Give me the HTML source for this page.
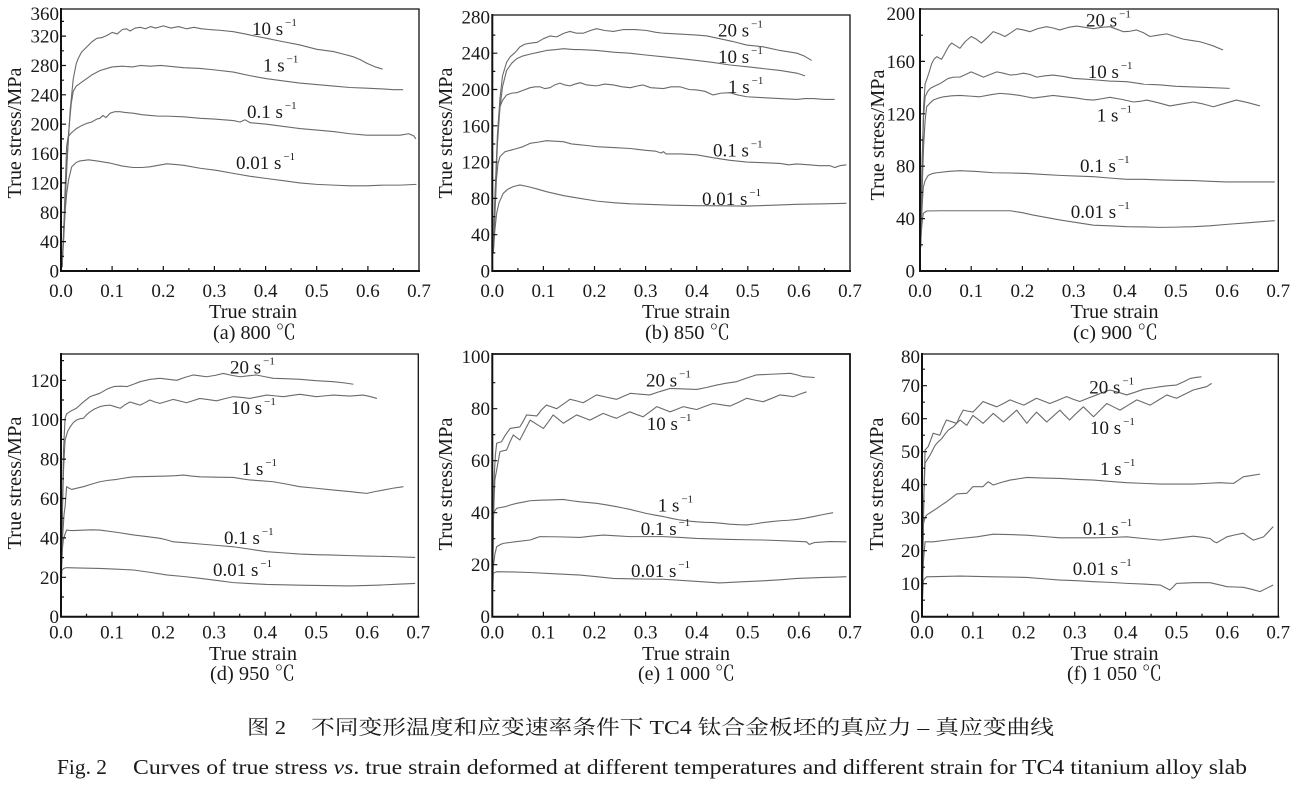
<!DOCTYPE html>
<html><head><meta charset="utf-8"><style>
html,body{margin:0;padding:0;background:#fff;}
svg{display:block;}
text{font-family:"Liberation Serif","Noto Serif CJK SC",serif;fill:#1a1a1a;}
.c path{fill:none;stroke:#6a6a6a;stroke-width:1.1;stroke-linejoin:round;}
.tk{stroke:#111;stroke-width:1.2;fill:none;}
.ax{stroke:#111;fill:none;}
.tl{font-size:19px;}
.yl{font-size:19px;text-anchor:end;}
.xl{font-size:19px;text-anchor:middle;}
.lb{font-size:19px;}
.ti{font-size:20px;text-anchor:middle;}
</style></head><body>
<svg width="1300" height="787" viewBox="0 0 1300 787" xmlns="http://www.w3.org/2000/svg">

<!-- ============ PANEL A ============ -->
<g class="c" transform="translate(61,271) scale(0.5114,-0.734)">
<path vector-effect="non-scaling-stroke" d="M2,5 L6,60 L12,150 L18,220 L24,262 L30,283 L34,290 L40,298 L50,305 L60,312 L70,317 L80,318 L90,321 L100,325 L110,323 L120,329 L128,330 L135,327 L145,331 L155,332 L165,330 L175,333 L185,331 L200,334 L215,331 L230,333 L245,330 L260,332 L275,330 L290,329 L310,328 L337,326 L360,323 L380,320 L402,317 L430,313 L467,308 L500,302 L533,299 L555,295 L571,292 L585,288 L598,283 L615,278 L629,275"/>
<path vector-effect="non-scaling-stroke" d="M2,5 L6,60 L10,130 L15,190 L20,228 L24,245 L30,252 L40,257 L50,262 L60,267 L76,273 L90,276 L100,278 L120,279 L140,278 L155,280 L175,279 L195,280 L210,279 L240,277 L272,276 L300,274 L337,271 L370,266 L402,262 L435,259 L467,256 L500,254 L533,252 L565,250 L598,249 L630,248 L650,247 L669,247"/>
<path vector-effect="non-scaling-stroke" d="M2,5 L6,70 L9,130 L11,170 L14,183 L20,188 L30,194 L40,198 L50,201 L60,203 L70,207 L76,208 L82,212 L88,209 L96,215 L105,217 L115,217 L125,216 L141,215 L158,213 L174,212 L190,211 L207,211 L240,210 L272,208 L300,207 L337,205 L350,203 L360,206 L370,202 L402,200 L435,197 L467,194 L500,192 L533,190 L565,187 L598,185 L630,185 L663,185 L680,187 L690,184 L694,180"/>
<path vector-effect="non-scaling-stroke" d="M2,5 L5,40 L8,80 L11,105 L15,125 L21,142 L30,148 L37,150 L54,151.5 L70,150 L96,147 L120,143 L141,141 L158,141 L174,142 L190,144 L207,146 L225,145 L240,144 L272,140 L305,137 L337,133 L370,129 L402,126 L435,123 L467,120 L500,118 L533,117 L565,116 L598,116 L630,117 L663,117 L695,118"/>
</g>
<path class="ax" stroke-width="1.3" d="M61,9 H419 V271"/>
<path class="ax" stroke-width="2" d="M61,8 V271 H420"/>
<path class="tk" d="M61,256.3h3M61,241.6h5M61,227h3M61,212.3h5M61,197.6h3M61,182.9h5M61,168.2h3M61,153.6h5M61,138.9h3M61,124.2h5M61,109.5h3M61,94.8h5M61,80.2h3M61,65.5h5M61,50.8h3M61,36.1h5M61,21.4h3
M86.6,271v-3M112.1,271v-5M137.7,271v-3M163.3,271v-5M188.9,271v-3M214.4,271v-5M240,271v-3M265.6,271v-5M291.1,271v-3M316.7,271v-5M342.3,271v-3M367.9,271v-5M393.4,271v-3"/>
<g class="yl">
<text x="59" y="277.5">0</text><text x="59" y="248">40</text><text x="59" y="218.8">80</text><text x="59" y="189.4">120</text><text x="59" y="160">160</text><text x="59" y="130.7">200</text><text x="59" y="101.3">240</text><text x="59" y="72">280</text><text x="59" y="42.6">320</text><text x="59" y="19.8">360</text>
</g>
<g class="xl">
<text x="61" y="297">0.0</text><text x="112.1" y="297">0.1</text><text x="163.3" y="297">0.2</text><text x="214.4" y="297">0.3</text><text x="265.6" y="297">0.4</text><text x="316.7" y="297">0.5</text><text x="367.9" y="297">0.6</text><text x="419" y="297">0.7</text>
</g>
<text class="ti" x="253" y="318" textLength="88" lengthAdjust="spacingAndGlyphs">True strain</text>
<text class="ti" transform="translate(21,133) rotate(-90)" x="0" y="0" textLength="131" lengthAdjust="spacingAndGlyphs">True stress/MPa</text>
<text class="ti" x="254.5" y="339" textLength="83" lengthAdjust="spacingAndGlyphs">(a) 800 ℃</text>
<g class="lb">
<text x="252" y="35">10 s<tspan dx="2" dy="-9" font-size="11">−1</tspan></text>
<text x="263" y="71.5">1 s<tspan dx="2" dy="-9" font-size="11">−1</tspan></text>
<text x="247" y="118">0.1 s<tspan dx="2" dy="-9" font-size="11">−1</tspan></text>
<text x="236" y="169">0.01 s<tspan dx="2" dy="-9" font-size="11">−1</tspan></text>
</g>

<!-- ============ PANEL B ============ -->
<g class="c" transform="translate(492.3,271) scale(0.511,-0.9075)">
<path vector-effect="non-scaling-stroke" d="M2,20 L5,80 L10,150 L15,190 L20,215 L28,230 L35,236 L45,241 L54,247 L64,250 L74,251 L88,252 L100,256 L113,259 L126,258 L140,262 L152,264 L165,262 L178,262 L192,265 L204,267 L220,265 L237,264 L256,266 L280,266 L302,265 L320,263 L335,262 L370,261 L400,260 L420,259 L445,256 L470,253 L498,249 L515,248 L530,247 L563,243 L596,240 L610,237 L625,232"/>
<path vector-effect="non-scaling-stroke" d="M2,20 L5,75 L10,140 L15,180 L20,203 L28,221 L38,229 L48,234 L60,237 L74,239 L90,241 L106,243 L125,244 L139,245 L160,244 L172,244 L204,243 L240,241 L269,240 L300,238 L335,236 L370,234 L400,232 L430,230 L465,227 L500,225 L530,223 L563,221 L596,218 L612,215"/>
<path vector-effect="non-scaling-stroke" d="M2,20 L5,70 L9,130 L12,165 L15,181 L20,188 L28,194 L38,196 L48,196.5 L60,199 L74,202 L84,203 L93,203 L103,201 L113,202 L122,205 L132,207 L142,205 L152,204 L162,206 L172,207.5 L185,205 L204,204 L220,206 L237,205 L254,203 L270,202 L285,204 L295,205 L310,202 L335,201 L350,203 L367,203 L385,200 L400,199.5 L416,198 L432,194 L448,196 L465,196.5 L480,194 L498,192 L530,191 L563,190 L596,189 L612,190 L628,190 L650,189 L670,189"/>
<path vector-effect="non-scaling-stroke" d="M2,20 L5,60 L8,100 L11,118 L15,126 L25,131.5 L35,133 L48,135 L60,137 L74,140.7 L90,142 L106,143.6 L122,143 L139,142.5 L155,140 L172,139 L190,138 L204,137 L237,136 L270,135 L300,133 L320,132 L330,130 L335,131.5 L340,129 L370,129 L400,128 L430,125 L465,122 L498,120 L530,119.4 L563,118.5 L580,117 L596,118 L620,117 L640,116 L661,116 L670,114 L680,116 L693,117"/>
<path vector-effect="non-scaling-stroke" d="M2,20 L5,45 L8.5,63.5 L13,75 L21.5,85.6 L30,90 L41,93 L54,94.8 L70,93 L90,90 L106,87.4 L140,83 L172,80 L205,77 L237,75.3 L270,74 L302,73.5 L350,72.5 L400,72 L450,71.8 L498,71.6 L550,72.5 L596,73.5 L650,74 L693,74.6"/>
</g>
<path class="ax" stroke-width="1.3" d="M492.3,15 H850 V271"/>
<path class="ax" stroke-width="2" d="M492.3,14 V271 H851"/>
<path class="tk" d="M492.3,252.9h3M492.3,234.7h5M492.3,216.6h3M492.3,198.4h5M492.3,180.3h3M492.3,162.1h5M492.3,144h3M492.3,125.8h5M492.3,107.7h3M492.3,89.5h5M492.3,71.4h3M492.3,53.2h5M492.3,35.1h3
M517.9,271v-3M543.4,271v-5M569,271v-3M594.5,271v-5M620.1,271v-3M645.6,271v-5M671.2,271v-3M696.7,271v-5M722.3,271v-3M747.8,271v-5M773.4,271v-3M798.9,271v-5M824.5,271v-3"/>
<g class="yl">
<text x="490" y="277.5">0</text><text x="490" y="241.2">40</text><text x="490" y="204.9">80</text><text x="490" y="168.6">120</text><text x="490" y="132.3">160</text><text x="490" y="96">200</text><text x="490" y="59.7">240</text><text x="490" y="23.5">280</text>
</g>
<g class="xl">
<text x="492.3" y="297">0.0</text><text x="543.4" y="297">0.1</text><text x="594.5" y="297">0.2</text><text x="645.6" y="297">0.3</text><text x="696.7" y="297">0.4</text><text x="747.8" y="297">0.5</text><text x="798.9" y="297">0.6</text><text x="850" y="297">0.7</text>
</g>
<text class="ti" x="686" y="318" textLength="88" lengthAdjust="spacingAndGlyphs">True strain</text>
<text class="ti" transform="translate(452,133) rotate(-90)" x="0" y="0" textLength="131" lengthAdjust="spacingAndGlyphs">True stress/MPa</text>
<text class="ti" x="687.5" y="339" textLength="85" lengthAdjust="spacingAndGlyphs">(b) 850 ℃</text>
<g class="lb">
<text x="718" y="36.5">20 s<tspan dx="2" dy="-9" font-size="11">−1</tspan></text>
<text x="718" y="63">10 s<tspan dx="2" dy="-9" font-size="11">−1</tspan></text>
<text x="728" y="93">1 s<tspan dx="2" dy="-9" font-size="11">−1</tspan></text>
<text x="713" y="156.5">0.1 s<tspan dx="2" dy="-9" font-size="11">−1</tspan></text>
<text x="702" y="205">0.01 s<tspan dx="2" dy="-9" font-size="11">−1</tspan></text>
</g>

<!-- ============ PANEL C ============ -->
<g class="c" transform="translate(920,271) scale(0.5119,-1.31)">
<path vector-effect="non-scaling-stroke" d="M1,18 L4,80 L7,125 L10,143 L13,146 L18,152 L23,158.5 L28,162 L33,163.6 L38,162.5 L42,161.6 L47,165 L52,168.7 L57,172 L62,174 L70,172 L78,170 L88,175 L100,179 L110,177 L120,174 L131,178 L143,182.7 L155,181 L166,179 L178,182 L189,185 L202,184 L215,182.7 L230,185 L247,186.5 L260,185.5 L273,184 L290,186 L306,187 L322,186 L339,185 L355,186 L371,186.5 L385,184.5 L397,182.7 L410,183 L423,184 L436,182 L449,179 L465,180 L482,181 L498,179 L514,177 L530,176 L547,175 L560,173.5 L573,171.8 L592,168.7"/>
<path vector-effect="non-scaling-stroke" d="M1,18 L4,80 L7,118 L10,133 L15,137 L20,139.4 L28,141 L39,143 L47,145 L55,147 L66,148 L78,148 L89,150 L100,152 L112,150 L124,148 L137,150 L150,152 L163,151 L176,149.6 L189,150 L202,151 L215,150 L228,148 L244,149 L260,149.6 L280,148.5 L300,147 L320,146.5 L339,146 L370,145 L404,144.5 L436,142.7 L470,142 L500,141 L533,140.5 L566,140 L605,139.4"/>
<path vector-effect="non-scaling-stroke" d="M1,18 L4,60 L7,95 L10,115 L13,125.4 L19,128 L26,130.5 L36,132 L46,133 L62,133.7 L78,134 L98,133.5 L117,133 L137,134.5 L156,135.6 L176,135 L195,134 L208,133 L221,132 L240,133 L260,134 L283,133 L306,132 L322,131 L339,130.5 L355,131.5 L371,132.6 L394,131 L417,129 L430,129.5 L443,130.5 L465,128.5 L488,126 L511,127.5 L534,129 L553,127.5 L573,125.4 L596,128 L618,130.5 L641,128.5 L664,126"/>
<path vector-effect="non-scaling-stroke" d="M1,18 L3,40 L5,55 L6.5,64 L10,69 L16,73 L25,74.5 L33,75 L55,76 L78,76.6 L110,76 L143,75 L176,74.8 L208,74.5 L240,73.7 L273,73 L306,72.5 L339,72 L370,71 L404,70 L436,70 L469,69.5 L500,69.2 L534,69 L566,68.5 L599,68 L640,68 L693,68"/>
<path vector-effect="non-scaling-stroke" d="M1,18 L3,32 L5,40 L6.5,44 L13,45.8 L40,46 L78,46 L120,46 L150,46 L176,46 L200,44.5 L221,42.7 L245,41 L273,39 L306,37 L339,35 L370,34.5 L404,33.8 L436,33.6 L469,33.3 L500,33.5 L534,33.8 L566,34.5 L599,35.6 L640,36.8 L693,38.4"/>
</g>
<path class="ax" stroke-width="1.3" d="M920,9 H1278.3 V271"/>
<path class="ax" stroke-width="2" d="M920,8 V271 H1279"/>
<path class="tk" d="M920,244.8h3M920,218.6h5M920,192.4h3M920,166.2h5M920,140h3M920,113.8h5M920,87.6h3M920,61.4h5M920,35.2h3
M945.6,271v-3M971.2,271v-5M996.8,271v-3M1022.4,271v-5M1048,271v-3M1073.6,271v-5M1099.1,271v-3M1124.7,271v-5M1150.3,271v-3M1175.9,271v-5M1201.5,271v-3M1227.1,271v-5M1252.7,271v-3"/>
<g class="yl">
<text x="915" y="277.5">0</text><text x="915" y="225.1">40</text><text x="915" y="172.7">80</text><text x="915" y="120.3">120</text><text x="915" y="67.9">160</text><text x="915" y="19.8">200</text>
</g>
<g class="xl">
<text x="920" y="297">0.0</text><text x="971.2" y="297">0.1</text><text x="1022.4" y="297">0.2</text><text x="1073.6" y="297">0.3</text><text x="1124.7" y="297">0.4</text><text x="1175.9" y="297">0.5</text><text x="1227.1" y="297">0.6</text><text x="1278.3" y="297">0.7</text>
</g>
<text class="ti" x="1114.5" y="318" textLength="88" lengthAdjust="spacingAndGlyphs">True strain</text>
<text class="ti" transform="translate(884,135) rotate(-90)" x="0" y="0" textLength="131" lengthAdjust="spacingAndGlyphs">True stress/MPa</text>
<text class="ti" x="1115.5" y="339" textLength="85" lengthAdjust="spacingAndGlyphs">(c) 900 ℃</text>
<g class="lb">
<text x="1086" y="26.5">20 s<tspan dx="2" dy="-9" font-size="11">−1</tspan></text>
<text x="1087.7" y="78">10 s<tspan dx="2" dy="-9" font-size="11">−1</tspan></text>
<text x="1096.7" y="121.5">1 s<tspan dx="2" dy="-9" font-size="11">−1</tspan></text>
<text x="1080" y="172">0.1 s<tspan dx="2" dy="-9" font-size="11">−1</tspan></text>
<text x="1070.7" y="218">0.01 s<tspan dx="2" dy="-9" font-size="11">−1</tspan></text>
</g>

<!-- ============ PANEL D ============ -->
<g class="c" transform="translate(61,616.7) scale(0.5103,-1.97)">
<path vector-effect="non-scaling-stroke" d="M1,25 L3,60 L5,85 L8,100.7 L11,103 L20,104.5 L30,105.8 L44,109 L57,111.7 L66,112.5 L76,113.4 L90,115.5 L103,116.8 L116,117 L129,116.8 L142,118 L155,119.3 L175,120.5 L194,121 L210,120.5 L227,120 L243,121.5 L259,122.7 L272,122.3 L285,121.8 L302,122.5 L318,123.5 L335,122.5 L351,121.8 L367,122.3 L383,122.7 L400,121.8 L416,121 L440,120.8 L468,120.5 L500,119.8 L534,119.3 L555,118.7 L573,118"/>
<path vector-effect="non-scaling-stroke" d="M1,25 L3,55 L5,75 L8,89.7 L13,94 L18,96.4 L24,98.5 L30,99.8 L37,100.5 L44,100.7 L50,102.5 L57,104 L66,105.5 L76,106.6 L86,107.2 L96,107.4 L106,106.6 L116,105.8 L125,107.5 L135,109 L145,108.2 L155,107.4 L165,108.7 L174,110 L184,109 L194,108.3 L207,109.3 L220,110.3 L233,109.5 L246,108.6 L259,109.7 L272,110.8 L288,110.2 L305,109.6 L321,110.7 L338,111.7 L354,111.3 L370,110.8 L387,111.7 L403,112.5 L420,112.1 L436,111.7 L452,112.3 L468,112.9 L484,112.3 L500,111.7 L517,112.1 L534,112.5 L566,112 L592,112.5 L605,111.8 L619,110.8"/>
<path vector-effect="non-scaling-stroke" d="M1,25 L3,40 L6,52 L8,55.8 L11,66 L16,65.2 L21,64.6 L32,65.3 L44,66 L60,67.3 L76,68.5 L92,69.2 L109,69.7 L125,70.4 L142,71 L175,71.2 L207,71.4 L224,71.6 L240,71.9 L256,71.4 L272,71 L305,70.8 L338,70.7 L354,70 L370,69.4 L393,69 L416,68.5 L442,67.3 L468,66 L500,65.2 L534,64.3 L550,63.9 L566,63.5 L583,63 L599,62.6 L615,63.5 L632,64.3 L650,65.2 L671,66"/>
<path vector-effect="non-scaling-stroke" d="M1,25 L3,35 L4.6,39 L8,42 L11,44 L17,43.8 L24,43.7 L40,43.9 L60,44.1 L76,44 L110,42.8 L142,41.5 L168,40.7 L194,39.8 L207,39 L220,38 L246,37.5 L272,36.9 L305,36.2 L338,35.5 L370,34.3 L403,33 L436,32.4 L468,31.8 L500,31.5 L534,31.3 L566,31 L599,30.8 L650,30.5 L694,30.1"/>
<path vector-effect="non-scaling-stroke" d="M1,20 L2,23.7 L5,24.5 L11,24.9 L40,24.7 L76,24.5 L110,24.1 L142,23.7 L175,22.5 L207,21.2 L240,20.4 L272,19.5 L305,18.4 L338,17.3 L370,16.8 L403,16.4 L436,16.2 L468,16 L517,15.8 L566,15.6 L620,16 L660,16.5 L694,16.9"/>
</g>
<path class="ax" stroke-width="1.3" d="M61,354 H418.3 V616.7"/>
<path class="ax" stroke-width="2" d="M61,353 V616.7 H419.3"/>
<path class="tk" d="M61,597h3M61,577.3h5M61,557.6h3M61,537.9h5M61,518.2h3M61,498.5h5M61,478.8h3M61,459.1h5M61,439.4h3M61,419.7h5M61,400h3M61,380.3h5M61,360.6h3
M86.5,616.7v-3M112,616.7v-5M137.6,616.7v-3M163.1,616.7v-5M188.6,616.7v-3M214.1,616.7v-5M239.7,616.7v-3M265.2,616.7v-5M290.7,616.7v-3M316.2,616.7v-5M341.7,616.7v-3M367.3,616.7v-5M392.8,616.7v-3"/>
<g class="yl">
<text x="59" y="623.2">0</text><text x="59" y="583.8">20</text><text x="59" y="544.4">40</text><text x="59" y="505">60</text><text x="59" y="465.6">80</text><text x="59" y="426.2">100</text><text x="59" y="386.8">120</text>
</g>
<g class="xl">
<text x="61" y="638.3">0.0</text><text x="112" y="638.3">0.1</text><text x="163.1" y="638.3">0.2</text><text x="214.1" y="638.3">0.3</text><text x="265.2" y="638.3">0.4</text><text x="316.2" y="638.3">0.5</text><text x="367.3" y="638.3">0.6</text><text x="418.3" y="638.3">0.7</text>
</g>
<text class="ti" x="253" y="660" textLength="88" lengthAdjust="spacingAndGlyphs">True strain</text>
<text class="ti" transform="translate(21,483) rotate(-90)" x="0" y="0" textLength="133" lengthAdjust="spacingAndGlyphs">True stress/MPa</text>
<text class="ti" x="252.5" y="680" textLength="85" lengthAdjust="spacingAndGlyphs">(d) 950 ℃</text>
<g class="lb">
<text x="230" y="373.3">20 s<tspan dx="2" dy="-9" font-size="11">−1</tspan></text>
<text x="231" y="414">10 s<tspan dx="2" dy="-9" font-size="11">−1</tspan></text>
<text x="241.7" y="475">1 s<tspan dx="2" dy="-9" font-size="11">−1</tspan></text>
<text x="224" y="544">0.1 s<tspan dx="2" dy="-9" font-size="11">−1</tspan></text>
<text x="213" y="576">0.01 s<tspan dx="2" dy="-9" font-size="11">−1</tspan></text>
</g>

<!-- ============ PANEL E ============ -->
<g class="c" transform="translate(492.3,616.7) scale(0.511,-2.6)">
<path vector-effect="non-scaling-stroke" d="M1,15 L2,40 L4,55 L6,62 L8.5,66.7 L13,67 L18,67.3 L26,70 L35,72.4 L44,72.7 L54,73 L60,75 L67,77.6 L77,77.4 L87,77.2 L96,79.5 L106,81.4 L116,80.7 L126,80 L139,81.8 L152,83.6 L165,83 L178,82.3 L191,83.8 L204,85.3 L224,84.4 L243,83.6 L256,84.7 L270,85.9 L289,85.6 L308,85.3 L328,86.6 L348,87.8 L374,87.6 L400,87.4 L420,88.2 L439,89.1 L458,89.8 L478,90.4 L498,91.8 L517,93 L550,93.3 L583,93.6 L596,93 L609,92.3 L631,92"/>
<path vector-effect="non-scaling-stroke" d="M1,15 L2,35 L3.5,45 L5,52.6 L10,58 L15,63.5 L21,63.8 L28,64.1 L34,67 L41,69.9 L47,69 L54,68 L64,71.8 L74,75.6 L87,74 L100,72.4 L110,75 L119,77.6 L129,76 L139,74.4 L152,76 L165,77.6 L178,76.6 L191,75.6 L204,76.9 L217,78.2 L230,77.2 L243,76.3 L256,77.6 L269,78.8 L282,77.8 L295,76.9 L309,78.9 L322,80.8 L335,79.8 L348,78.8 L361,79.8 L374,80.8 L387,80.2 L400,79.7 L416,80.9 L432,82 L449,81.5 L465,81 L482,82.5 L498,84 L514,83.3 L530,82.7 L547,84 L563,85.3 L576,85 L589,84.6 L602,85.6 L615,86.5"/>
<path vector-effect="non-scaling-stroke" d="M1,15 L2,39.7 L5,40.7 L8.5,41.7 L16,42 L25,42.3 L36,43 L48,43.6 L61,44.1 L74,44.6 L94,44.8 L113,44.9 L126,45 L139,45.1 L155,44.6 L172,44.2 L188,43.9 L204,43.6 L224,43 L243,42.3 L256,41.8 L269,41.3 L285,40.5 L302,39.7 L318,39.1 L335,38.5 L351,37.8 L367,37.2 L384,36.8 L400,36.5 L416,36.3 L432,36.2 L449,35.9 L465,35.6 L482,35.4 L498,35.3 L514,35.7 L530,36.2 L547,36.6 L563,36.9 L580,37.1 L596,37.4 L612,37.9 L628,38.5 L648,39.3 L667,40"/>
<path vector-effect="non-scaling-stroke" d="M1,12 L2,19.2 L5,24 L8.5,26.9 L15,27.7 L21.5,28.2 L48,28.9 L74,29.5 L84,30.2 L93,30.8 L133,30.7 L172,30.5 L195,31 L217,31.4 L243,31.1 L269,30.8 L302,30.8 L335,30.8 L368,30.5 L400,30.1 L432,29.9 L465,29.7 L498,29.6 L530,29.5 L573,29.2 L615,28.8 L620,27.8 L630,28.5 L660,28.9 L693,28.8"/>
<path vector-effect="non-scaling-stroke" d="M1,10 L2,16.7 L5,17 L8.5,17.3 L40,17.2 L74,17 L123,16.5 L172,16 L204,15.4 L237,14.7 L286,14.5 L335,14.4 L390,13.7 L445,13 L488,13.4 L530,13.8 L563,14.2 L596,14.7 L622,14.9 L648,15.1 L670,15.2 L693,15.4"/>
</g>
<path class="ax" stroke-width="1.8" d="M492.3,354 H850 V616.7"/>
<path class="ax" stroke-width="2" d="M492.3,353 V616.7 H851"/>
<path class="tk" d="M492.3,590.7h3M492.3,564.7h5M492.3,538.7h3M492.3,512.7h5M492.3,486.7h3M492.3,460.7h5M492.3,434.7h3M492.3,408.7h5M492.3,382.7h3
M517.9,616.7v-3M543.4,616.7v-5M569,616.7v-3M594.5,616.7v-5M620.1,616.7v-3M645.6,616.7v-5M671.2,616.7v-3M696.7,616.7v-5M722.3,616.7v-3M747.8,616.7v-5M773.4,616.7v-3M798.9,616.7v-5M824.5,616.7v-3"/>
<g class="yl">
<text x="490" y="623.2">0</text><text x="490" y="571.2">20</text><text x="490" y="519.2">40</text><text x="490" y="467.2">60</text><text x="490" y="415.2">80</text><text x="490" y="363.2">100</text>
</g>
<g class="xl">
<text x="492.3" y="638.3">0.0</text><text x="543.4" y="638.3">0.1</text><text x="594.5" y="638.3">0.2</text><text x="645.6" y="638.3">0.3</text><text x="696.7" y="638.3">0.4</text><text x="747.8" y="638.3">0.5</text><text x="798.9" y="638.3">0.6</text><text x="850" y="638.3">0.7</text>
</g>
<text class="ti" x="686" y="660" textLength="88" lengthAdjust="spacingAndGlyphs">True strain</text>
<text class="ti" transform="translate(452,484) rotate(-90)" x="0" y="0" textLength="133" lengthAdjust="spacingAndGlyphs">True stress/MPa</text>
<text class="ti" x="686.5" y="680" textLength="97" lengthAdjust="spacingAndGlyphs">(e) 1 000 ℃</text>
<g class="lb">
<text x="646" y="386.7">20 s<tspan dx="2" dy="-9" font-size="11">−1</tspan></text>
<text x="646.7" y="430">10 s<tspan dx="2" dy="-9" font-size="11">−1</tspan></text>
<text x="657.7" y="511.7">1 s<tspan dx="2" dy="-9" font-size="11">−1</tspan></text>
<text x="640.7" y="535">0.1 s<tspan dx="2" dy="-9" font-size="11">−1</tspan></text>
<text x="631" y="577">0.01 s<tspan dx="2" dy="-9" font-size="11">−1</tspan></text>
</g>

<!-- ============ PANEL F ============ -->
<g class="c" transform="translate(922,616.7) scale(0.509,-3.3)">
<path vector-effect="non-scaling-stroke" d="M1,10 L2,25 L3,33 L4.5,42 L6,50.5 L9,51 L12,51.5 L17,53.5 L22,55.6 L28,55.3 L35,55 L41,57.3 L48,59.6 L58,59.1 L68,58.6 L74,60.6 L81,62.6 L90,62.3 L100,62 L110,63.6 L120,65.2 L133,64.4 L147,63.6 L160,64.6 L173,65.7 L186,64.9 L200,64.1 L212,65.1 L225,66.2 L238,65.4 L251,64.6 L267,65.6 L284,66.7 L297,65.9 L310,65.2 L326,66.2 L343,67.2 L356,68 L369,68.7 L386,68 L402,67.2 L418,68 L435,68.9 L452,69.3 L468,69.7 L484,70 L500,70.2 L514,71.2 L527,72.2 L538,72.5 L549,72.7"/>
<path vector-effect="non-scaling-stroke" d="M1,10 L2,22 L4,38 L6,46.5 L11,47.8 L16,49 L21,50.5 L26,52 L32,53 L39,54 L45,55.3 L52,56.6 L57,57.1 L62,57.6 L68,58.6 L75,59.6 L81,58.8 L88,58 L94,59.5 L100,61 L110,59.8 L120,58.6 L130,60.1 L140,61.6 L150,60.3 L160,59 L173,60.8 L186,62.6 L196,60.6 L206,58.6 L215,60.3 L225,62 L235,60.5 L245,59 L258,60.8 L271,62.6 L280,61.1 L290,59.6 L303,61.6 L317,63.6 L327,62.1 L337,60.6 L350,62.6 L363,64.6 L376,63.6 L389,62.6 L405,64.1 L422,65.7 L435,64.9 L448,64.1 L464,65.6 L481,67.2 L490,66.7 L500,66.2 L516,67.4 L533,68.7 L546,69.2 L559,69.7 L569,70.7"/>
<path vector-effect="non-scaling-stroke" d="M1,10 L2,20 L3,28.3 L6,30 L9,30.8 L19,31.8 L29,32.8 L38,33.8 L48,34.8 L58,36 L68,37.2 L78,37.3 L88,37.4 L94,38.4 L100,39.4 L110,39.4 L120,39.4 L125,40.2 L130,40.9 L135,40.4 L140,39.9 L156,40.7 L173,41.4 L190,41.8 L206,42.2 L238,42 L271,41.9 L304,41.6 L337,41.4 L370,41 L402,40.6 L435,40.4 L468,40.2 L500,40.2 L533,40.2 L559,40.4 L585,40.6 L598,40.5 L612,40.4 L622,41.4 L631,42.4 L648,42.8 L664,43.2"/>
<path vector-effect="non-scaling-stroke" d="M1,8 L2,13 L3,17.2 L4.5,20 L6,22.7 L14,22.7 L22,22.7 L48,23.2 L75,23.7 L108,24.2 L140,25 L173,24.9 L206,24.7 L238,24.3 L271,23.9 L304,23.9 L337,23.9 L370,24 L402,24.2 L435,23.7 L468,23.2 L500,23.8 L533,24.4 L550,24.1 L566,23.7 L573,22.8 L579,22.4 L589,23.3 L599,24.2 L615,24.8 L631,25.3 L641,24.2 L651,23.2 L661,23.7 L671,24.2 L681,25.8 L690,27.3"/>
<path vector-effect="non-scaling-stroke" d="M1,5 L2,9 L3,11.1 L6,11.6 L9,12.1 L42,12.2 L75,12.3 L108,12.2 L140,12.1 L173,12 L206,11.9 L238,11.5 L271,11.1 L304,10.9 L337,10.6 L370,10.4 L402,10.1 L435,9.9 L468,9.6 L478,8.8 L487,8.1 L494,9.1 L500,10.1 L516,10.2 L533,10.3 L550,10.3 L566,10.3 L583,9.7 L599,9.1 L615,9 L631,8.9 L648,8.3 L664,7.6 L677,8.6 L690,9.6"/>
</g>
<path class="ax" stroke-width="1.3" d="M922,354 H1278.3 V616.7"/>
<path class="ax" stroke-width="2" d="M922,353 V616.7 H1279.3"/>
<path class="tk" d="M922,600.2h3M922,583.7h5M922,567.2h3M922,550.7h5M922,534.2h3M922,517.7h5M922,501.2h3M922,484.7h5M922,468.2h3M922,451.7h5M922,435.2h3M922,418.7h5M922,402.2h3M922,385.7h5M922,369.2h3
M947.5,616.7v-3M972.9,616.7v-5M998.4,616.7v-3M1023.8,616.7v-5M1049.3,616.7v-3M1074.7,616.7v-5M1100.2,616.7v-3M1125.6,616.7v-5M1151.1,616.7v-3M1176.5,616.7v-5M1202,616.7v-3M1227.4,616.7v-5M1252.9,616.7v-3"/>
<g class="yl">
<text x="920" y="623.2">0</text><text x="920" y="590.2">10</text><text x="920" y="557.2">20</text><text x="920" y="524.2">30</text><text x="920" y="491.2">40</text><text x="920" y="458.2">50</text><text x="920" y="425.2">60</text><text x="920" y="392.2">70</text><text x="920" y="363.2">80</text>
</g>
<g class="xl">
<text x="922" y="638.3">0.0</text><text x="972.9" y="638.3">0.1</text><text x="1023.8" y="638.3">0.2</text><text x="1074.7" y="638.3">0.3</text><text x="1125.6" y="638.3">0.4</text><text x="1176.5" y="638.3">0.5</text><text x="1227.4" y="638.3">0.6</text><text x="1278.3" y="638.3">0.7</text>
</g>
<text class="ti" x="1114.5" y="660" textLength="88" lengthAdjust="spacingAndGlyphs">True strain</text>
<text class="ti" transform="translate(883,484) rotate(-90)" x="0" y="0" textLength="133" lengthAdjust="spacingAndGlyphs">True stress/MPa</text>
<text class="ti" x="1114.5" y="680" textLength="95" lengthAdjust="spacingAndGlyphs">(f) 1 050 ℃</text>
<g class="lb">
<text x="1089.3" y="393.3">20 s<tspan dx="2" dy="-9" font-size="11">−1</tspan></text>
<text x="1090" y="434">10 s<tspan dx="2" dy="-9" font-size="11">−1</tspan></text>
<text x="1100" y="475">1 s<tspan dx="2" dy="-9" font-size="11">−1</tspan></text>
<text x="1082.7" y="535">0.1 s<tspan dx="2" dy="-9" font-size="11">−1</tspan></text>
<text x="1072.7" y="575">0.01 s<tspan dx="2" dy="-9" font-size="11">−1</tspan></text>
</g>

<!-- ============ CAPTIONS ============ -->
<text x="247" y="734" font-size="20" textLength="39" lengthAdjust="spacingAndGlyphs">图 2</text>
<text x="311" y="734" font-size="20" textLength="743" lengthAdjust="spacingAndGlyphs">不同变形温度和应变速率条件下 TC4 钛合金板坯的真应力 – 真应变曲线</text>
<text x="57" y="774" font-size="21" textLength="50" lengthAdjust="spacingAndGlyphs">Fig. 2</text>
<text x="133" y="774" font-size="21" textLength="1114" lengthAdjust="spacingAndGlyphs">Curves of true stress <tspan font-style="italic">vs</tspan>. true strain deformed at different temperatures and different strain for TC4 titanium alloy slab</text>
</svg>
</body></html>
